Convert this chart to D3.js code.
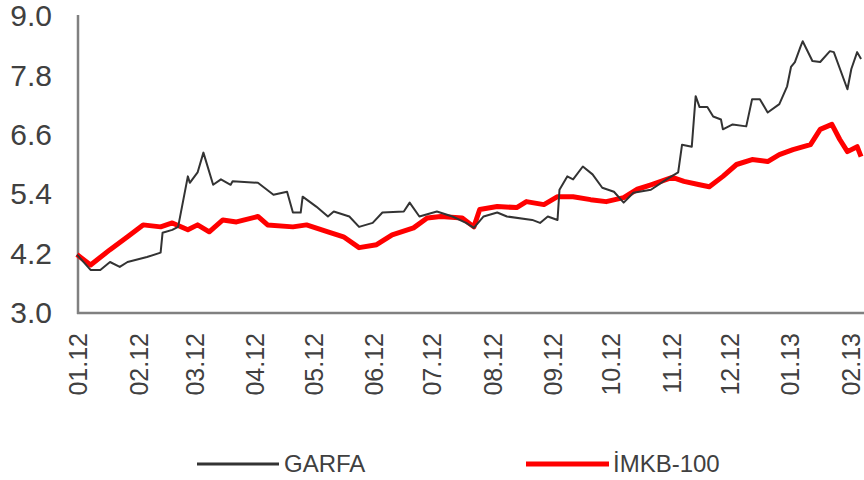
<!DOCTYPE html>
<html>
<head>
<meta charset="utf-8">
<script src="https://cdn.jsdelivr.net/npm/d3@7"></script>
<style>
  html, body { margin: 0; padding: 0; background: #fff; }
  svg { display: block; font-family: "Liberation Sans", Arial, sans-serif; }
</style>
</head>
<body>
<svg id="chart" width="864" height="480"></svg>
<script>
// ---- data ----
const monthLabels = ["01.12","02.12","03.12","04.12","05.12","06.12","07.12","08.12","09.12","10.12","11.12","12.12","01.13","02.13"];
const yTicks = [3.0, 4.2, 5.4, 6.6, 7.8, 9.0];
const seriesNames = ["GARFA", "İMKB-100"];

const garfaDates = ["2012-01-02","2012-01-09","2012-01-14","2012-01-19","2012-01-24","2012-01-28","2012-02-07","2012-02-14","2012-02-15","2012-02-20","2012-02-23","2012-02-28","2012-02-29","2012-03-04","2012-03-07","2012-03-12","2012-03-16","2012-03-21","2012-03-22","2012-04-04","2012-04-12","2012-04-19","2012-04-22","2012-04-26","2012-04-27","2012-05-04","2012-05-10","2012-05-13","2012-05-21","2012-05-26","2012-06-02","2012-06-07","2012-06-18","2012-06-21","2012-06-26","2012-07-05","2012-07-13","2012-07-20","2012-07-24","2012-07-29","2012-08-05","2012-08-10","2012-08-23","2012-08-27","2012-08-31","2012-09-05","2012-09-06","2012-09-10","2012-09-13","2012-09-18","2012-09-23","2012-09-28","2012-10-04","2012-10-09","2012-10-14","2012-10-23","2012-10-31","2012-11-06","2012-11-08","2012-11-13","2012-11-15","2012-11-17","2012-11-21","2012-11-24","2012-11-28","2012-11-29","2012-12-04","2012-12-11","2012-12-14","2012-12-18","2012-12-22","2012-12-28","2013-01-01","2013-01-03","2013-01-05","2013-01-08","2013-01-09","2013-01-14","2013-01-18","2013-01-23","2013-01-25","2013-02-01","2013-02-03","2013-02-06","2013-02-08"];
const garfaValues = [4.18,3.87,3.87,4.03,3.93,4.03,4.13,4.22,4.62,4.68,4.74,5.76,5.63,5.84,6.24,5.59,5.70,5.59,5.66,5.63,5.39,5.45,5.03,5.03,5.35,5.15,4.95,5.05,4.95,4.74,4.82,5.03,5.05,5.23,4.95,5.05,4.95,4.82,4.72,4.95,5.03,4.95,4.88,4.82,4.95,4.88,5.49,5.76,5.70,5.96,5.80,5.53,5.45,5.23,5.43,5.49,5.70,5.84,6.40,6.36,7.38,7.16,7.16,6.97,6.91,6.71,6.81,6.77,7.32,7.32,7.05,7.22,7.58,7.97,8.07,8.39,8.49,8.09,8.07,8.29,8.27,7.52,7.93,8.27,8.13];

const imkbDates = ["2012-01-02","2012-01-09","2012-01-19","2012-01-28","2012-02-05","2012-02-14","2012-02-20","2012-02-28","2012-03-04","2012-03-10","2012-03-17","2012-03-24","2012-04-04","2012-04-09","2012-04-22","2012-04-29","2012-05-10","2012-05-18","2012-05-26","2012-06-04","2012-06-12","2012-06-23","2012-06-30","2012-07-07","2012-07-18","2012-07-24","2012-07-27","2012-08-05","2012-08-15","2012-08-20","2012-08-29","2012-09-05","2012-09-13","2012-09-22","2012-09-30","2012-10-09","2012-10-16","2012-10-23","2012-11-03","2012-11-09","2012-11-17","2012-11-22","2012-11-29","2012-12-06","2012-12-14","2012-12-22","2012-12-28","2013-01-04","2013-01-13","2013-01-18","2013-01-24","2013-01-28","2013-02-01","2013-02-06","2013-02-08"];
const imkbValues = [4.18,3.97,4.28,4.54,4.78,4.74,4.82,4.68,4.78,4.64,4.88,4.84,4.95,4.78,4.74,4.78,4.64,4.54,4.32,4.38,4.58,4.72,4.92,4.95,4.92,4.74,5.09,5.15,5.13,5.25,5.19,5.35,5.35,5.29,5.25,5.33,5.50,5.59,5.74,5.66,5.59,5.55,5.76,6.00,6.10,6.06,6.20,6.30,6.40,6.71,6.81,6.51,6.26,6.36,6.16];

// ---- setup ----
const parseDate = d3.timeParse("%Y-%m-%d");
const parseMonth = d3.timeParse("%m.%y");
const svg = d3.select("#chart");

const x = d3.scaleTime()
  .domain([parseDate("2012-01-01"), parseDate("2013-02-09")])
  .range([75, 863]);
const y = d3.scaleLinear().domain([3.0, 9.0]).range([313, 16]);

const axisColor = "#808080";
const textColor = "#404040";

// axes lines
svg.append("line").attr("x1", 78).attr("x2", 78).attr("y1", 15).attr("y2", 314)
  .attr("stroke", axisColor).attr("stroke-width", 2.5);
svg.append("line").attr("x1", 77).attr("x2", 864).attr("y1", 313).attr("y2", 313)
  .attr("stroke", axisColor).attr("stroke-width", 2.5);

// y axis labels
const yAxis = d3.axisLeft(y).tickValues(yTicks).tickSize(0).tickPadding(26).tickFormat(d3.format(".1f"));
const gy = svg.append("g").attr("transform", "translate(78,0)").call(yAxis);
gy.select(".domain").remove();
gy.selectAll("text").attr("font-size", 30).attr("fill", textColor)
  .attr("font-family", "'Liberation Sans', Arial, sans-serif");

// x axis labels (rotated)
const xAxis = d3.axisBottom(x).tickValues(monthLabels.map(parseMonth)).tickSize(0)
  .tickFormat(d3.timeFormat("%m.%y"));
const gx = svg.append("g").attr("transform", "translate(0,313)").call(xAxis);
gx.select(".domain").remove();
gx.selectAll("text")
  .attr("font-size", 25).attr("fill", textColor)
  .attr("font-family", "'Liberation Sans', Arial, sans-serif")
  .attr("text-anchor", "end")
  .attr("y", 0).attr("dy", "0.35em")
  .attr("transform", "translate(3,20) rotate(-90)")
  .attr("x", 0);

// lines
const line = d3.line().x(d => x(d[0])).y(d => y(d[1]));
const garfa = garfaDates.map((d, i) => [parseDate(d), garfaValues[i]]);
const imkb = imkbDates.map((d, i) => [parseDate(d), imkbValues[i]]);

svg.append("path").datum(imkb).attr("d", line)
  .attr("fill", "none").attr("stroke", "#ff0000").attr("stroke-width", 5)
  .attr("stroke-linejoin", "round");
svg.append("path").datum(garfa).attr("d", line)
  .attr("fill", "none").attr("stroke", "#333333").attr("stroke-width", 2)
  .attr("stroke-linejoin", "round");

// legend
const legendItems = [
  { name: seriesNames[0], color: "#333333", width: 3, x1: 197, x2: 279, tx: 284 },
  { name: seriesNames[1], color: "#ff0000", width: 5, x1: 526, x2: 609, tx: 613 }
];
const lg = svg.append("g");
legendItems.forEach(it => {
  lg.append("line").attr("x1", it.x1).attr("x2", it.x2).attr("y1", 464).attr("y2", 464)
    .attr("stroke", it.color).attr("stroke-width", it.width);
  lg.append("text").attr("x", it.tx).attr("y", 464).attr("dy", "0.35em")
    .attr("font-size", 24).attr("fill", textColor).text(it.name);
});
</script>
</body>
</html>
